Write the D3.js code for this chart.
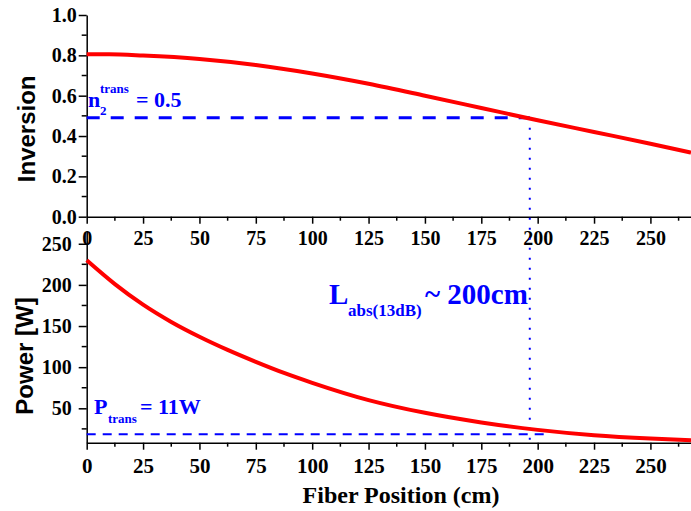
<!DOCTYPE html>
<html>
<head>
<meta charset="utf-8">
<script src="https://cdn.jsdelivr.net/npm/d3@7"></script>
<style>
  body { margin: 0; background: #fff; }
  svg { display: block; }
  .axis path, .axis line { stroke: #000; stroke-width: 1.5; }
  .axis text { font-family: "Liberation Serif", "Times New Roman", serif; font-weight: bold; fill: #000; }
  .anno { font-family: "Liberation Serif", "Times New Roman", serif; font-weight: bold; fill: #0000ff; }
  .xtitle { font-family: "Liberation Serif", "Times New Roman", serif; font-weight: bold; font-size: 24px; }
  .ytitle { font-family: "Liberation Sans", Arial, sans-serif; font-weight: bold; font-size: 24px; }
</style>
</head>
<body>
<script>
// inversion along the fiber (top panel)
const invPos = [0, 10, 25, 50, 75, 100, 125, 150, 175, 200, 225, 250, 268];
const inversion = [0.805, 0.805, 0.799, 0.782, 0.752, 0.710, 0.659, 0.600, 0.539, 0.478, 0.420, 0.362, 0.318];

// pump power along the fiber (bottom panel)
const powPos = [0, 12.5, 25, 37.5, 50, 62.5, 75, 87.5, 100, 125, 150, 175, 200, 225, 250, 268];
const power = [230, 201, 176, 155, 137, 121, 106.5, 93, 81, 60, 44.5, 32.8, 23.8, 17.3, 13.2, 11.2];

// tick values
const xTicks = [0, 25, 50, 75, 100, 125, 150, 175, 200, 225, 250];
const xMinor = [12.5, 37.5, 62.5, 87.5, 112.5, 137.5, 162.5, 187.5, 212.5, 237.5, 262.5];
const invTicks = [0, 0.2, 0.4, 0.6, 0.8, 1.0];
const invMinor = [0.1, 0.3, 0.5, 0.7, 0.9];
const powTicks = [50, 100, 150, 200, 250];
const powMinor = [25, 75, 125, 175, 225];

// annotation values
const nTransLevel = 0.49;   // dashed line in top panel
const lAbs = 196.5;         // absorption length (cm)
const pTransLevel = 18.5;   // dashed line in bottom panel
const pTransEnd = 204.5;

const width = 691, height = 511;

const svg = d3.select("body").append("svg")
    .attr("width", width)
    .attr("height", height);

const x = d3.scaleLinear().domain([0, 268]).range([86.7, 691]);
const yInv = d3.scaleLinear().domain([0, 1]).range([216.7, 15]);
const yPow = d3.scaleLinear().domain([8.2, 265.5]).range([442.7, 231]);

function minorX(g, y0) {
  g.selectAll("line.minor").data(xMinor).join("line")
      .attr("class", "minor")
      .attr("x1", d => x(d)).attr("x2", d => x(d))
      .attr("y1", y0).attr("y2", y0 + 4);
}
function minorY(g, scale, vals) {
  g.selectAll("line.minor").data(vals).join("line")
      .attr("class", "minor")
      .attr("x1", x(0) - 5).attr("x2", x(0))
      .attr("y1", d => scale(d)).attr("y2", d => scale(d));
}

// ---- top panel axes
const gxTop = svg.append("g").attr("class", "axis")
    .attr("transform", `translate(0,${yInv(0)})`)
    .call(d3.axisBottom(x).tickValues(xTicks).tickSize(7).tickSizeOuter(0));
gxTop.selectAll("text").attr("y", 28).attr("dy", null).style("font-size", "20px");
minorX(svg.append("g").attr("class", "axis"), yInv(0));

const gyTop = svg.append("g").attr("class", "axis")
    .attr("transform", `translate(${x(0)},0)`)
    .call(d3.axisLeft(yInv).tickValues(invTicks).tickFormat(d3.format(".1f")).tickSize(8).tickPadding(2).tickSizeOuter(0));
gyTop.selectAll("text").style("font-size", "20px");
minorY(svg.append("g").attr("class", "axis"), yInv, invMinor);

// ---- bottom panel axes
const gxBot = svg.append("g").attr("class", "axis")
    .attr("transform", `translate(0,${yPow.range()[0]})`)
    .call(d3.axisBottom(x).tickValues(xTicks).tickSize(7).tickSizeOuter(0));
gxBot.selectAll("text").attr("y", 30.5).attr("dy", null).style("font-size", "21px");
minorX(svg.append("g").attr("class", "axis"), yPow.range()[0]);

const gyBot = svg.append("g").attr("class", "axis")
    .attr("transform", `translate(${x(0)},0)`)
    .call(d3.axisLeft(yPow).tickValues(powTicks).tickSize(8).tickPadding(7).tickSizeOuter(0));
gyBot.selectAll("text").style("font-size", "20px");
minorY(svg.append("g").attr("class", "axis"), yPow, powMinor);

// ---- titles
svg.append("text").attr("class", "ytitle")
    .attr("transform", `translate(35,${(yInv(0) + yInv(1)) / 2 + 13}) rotate(-90)`)
    .attr("text-anchor", "middle")
    .text("Inversion");
svg.append("text").attr("class", "ytitle")
    .attr("transform", `translate(33,356) rotate(-90)`)
    .attr("text-anchor", "middle")
    .text("Power [W]");
svg.append("text").attr("class", "xtitle")
    .attr("x", 401).attr("y", 503)
    .attr("text-anchor", "middle")
    .text("Fiber Position (cm)");

// ---- guide lines
svg.append("line")
    .attr("x1", x(0)).attr("x2", x(lAbs))
    .attr("y1", yInv(nTransLevel)).attr("y2", yInv(nTransLevel))
    .attr("stroke", "#0000ff").attr("stroke-width", 3)
    .attr("stroke-dasharray", "13,11");
svg.append("line")
    .attr("x1", x(lAbs)).attr("x2", x(lAbs))
    .attr("y1", yInv(nTransLevel)).attr("y2", yPow.range()[0])
    .attr("stroke", "#0000ff").attr("stroke-width", 2)
    .attr("stroke-dasharray", "2,8");
svg.append("line")
    .attr("x1", x(0)).attr("x2", x(pTransEnd))
    .attr("y1", yPow(pTransLevel)).attr("y2", yPow(pTransLevel))
    .attr("stroke", "#0000ff").attr("stroke-width", 2)
    .attr("stroke-dasharray", "9,7");

// ---- curves
const lineInv = d3.line().x((d, i) => x(invPos[i])).y(d => yInv(d)).curve(d3.curveMonotoneX);
const linePow = d3.line().x((d, i) => x(powPos[i])).y(d => yPow(d)).curve(d3.curveMonotoneX);

svg.append("path").datum(inversion)
    .attr("fill", "none").attr("stroke", "#ff0000").attr("stroke-width", 4)
    .attr("d", lineInv);
svg.append("path").datum(power)
    .attr("fill", "none").attr("stroke", "#ff0000").attr("stroke-width", 4)
    .attr("d", linePow);

// ---- annotations
function anno(xp, yp, size, txt) {
  svg.append("text").attr("class", "anno")
      .attr("x", xp).attr("y", yp)
      .style("font-size", size + "px")
      .text(txt);
}
anno(88, 107, 22, "n");
anno(100, 115, 13, "2");
anno(100, 93, 13, "trans");
anno(136, 107, 22, "= 0.5");

anno(329, 304, 29, "L");
anno(348, 316, 17, "abs(13dB)");
anno(425, 304, 29, "~ 200cm");

anno(94, 414, 22, "P");
anno(108, 423, 13, "trans");
anno(140, 414, 22, "= 11W");
</script>
</body>
</html>
